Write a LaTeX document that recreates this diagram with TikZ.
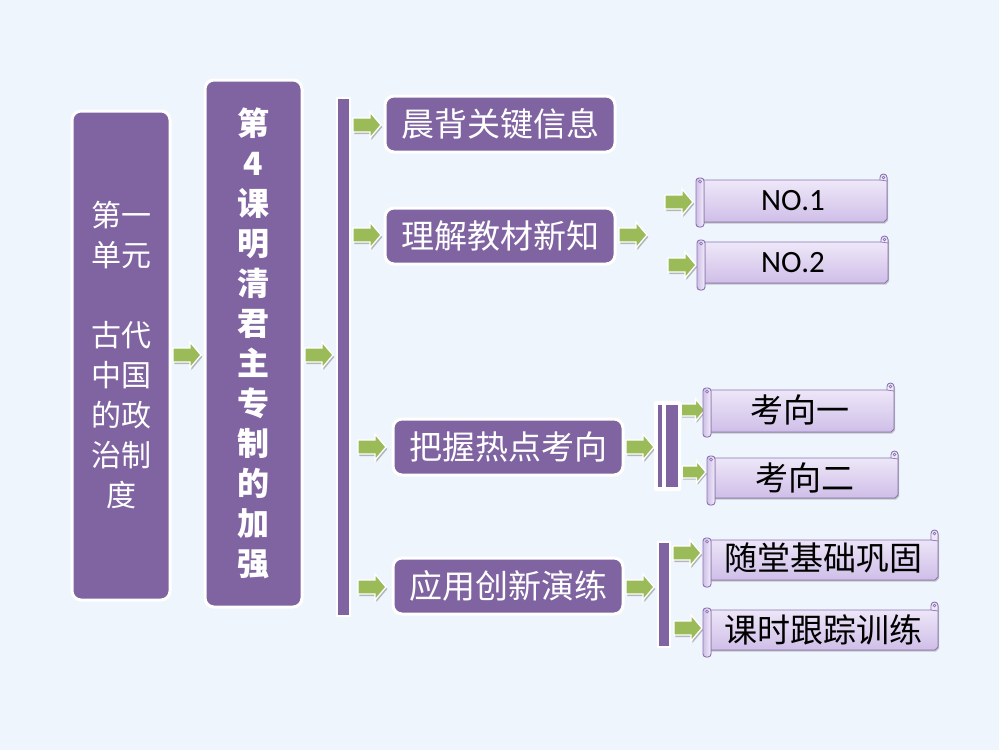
\documentclass[tikz,border=0pt]{standalone}
\usepackage{fontspec}
\setmainfont{Carlito}
\newfontfamily\cjk{Noto Sans CJK SC}
\usetikzlibrary{shadows}
\definecolor{bgc}{RGB}{238,245,253}
\definecolor{pur}{RGB}{128,100,162}
\definecolor{agr}{RGB}{155,187,89}
\definecolor{lavtop}{RGB}{243,238,251}
\definecolor{lavbot}{RGB}{207,190,232}
\definecolor{sedge}{RGB}{140,115,178}
\newcommand\scrollbox[6]{%
  \filldraw[top color=lavtop, bottom color=lavbot, draw=sedge, line width=0.9pt,
    drop shadow={shadow xshift=1pt, shadow yshift=-1.5pt, fill=black!40, opacity=0.5}]
    (#1+4,#3) -- (#2-7,#3) -- (#2-7,#6+3.5) arc[start angle=180,end angle=360,radius=3.5]
    -- (#2,#4-3) -- (#2-3,#4) -- (#1+4,#4) -- cycle;
  \draw[sedge, line width=0.7pt] (#2-3.5,#6+3.5) circle (1.3);
  \draw[sedge, line width=0.7pt] (#2-7,#3) -- (#2,#3+1);
  \filldraw[left color=lavbot, right color=lavtop, draw=sedge, line width=0.9pt, rounded corners=3pt]
    (#1,#3-2) rectangle (#1+8,#5);
  \draw[sedge, line width=0.7pt] (#1+4,#3+1.5) circle (1.5);
}
\newcommand\greenarrow[3][1]{%
  \coordinate (#2) at (#3);
  \begin{scope}[shift={(#2)}, scale=#1]
    \fill[black!45, opacity=0.6, shift={(1.3,2)}]
      (-14,-7) -- (3,-7) -- (3,-13) -- (14,0) -- (3,13) -- (3,7) -- (-14,7) -- cycle;
    \filldraw[fill=agr, draw=white, line width=1.3pt, line join=miter]
      (-14,-7) -- (3,-7) -- (3,-13) -- (14,0) -- (3,13) -- (3,7) -- (-14,7) -- cycle;
  \end{scope}}
\begin{document}
\begin{tikzpicture}[x=1pt,y=-1pt,
  pbox/.style={draw=white, line width=3pt, fill=pur, rounded corners=9pt, text=white, inner sep=0pt, align=center},
  vbar/.style={draw=white, line width=2.5pt, fill=pur, inner sep=0pt},
  btext/.style={font=\cjk\fontsize{33}{33}\selectfont},
  stext/.style={font=\cjk\fontsize{33}{33}\selectfont, text=black, inner sep=0pt},
  ntext/.style={font=\fontsize{31}{31}\selectfont, text=black, inner sep=0pt}
]
\fill[bgc] (0,0) rectangle (999,750);
\useasboundingbox (0,0) rectangle (999,750);

% left boxes
\node[pbox, minimum width=98pt, minimum height=489pt, font=\cjk\fontsize{30}{40}\selectfont]
  (unit) at (121,355.5) {第一\\单元\\[40pt]古代\\中国\\的政\\治制\\度};
\node[pbox, minimum width=97pt, minimum height=527pt, font=\cjk\bfseries\fontsize{32}{40}\selectfont]
  (lesson) at (253.5,343.5) {第\\4\\课\\明\\清\\君\\主\\专\\制\\的\\加\\强};
\node[vbar, minimum width=13pt, minimum height=518pt] (mainbar) at (343.5,357) {};

\greenarrow{a0}{187,355}
\greenarrow{a1}{319,355}

% second level
\node[pbox, minimum width=230pt, minimum height=56pt, btext] (b1) at (500,124) {晨背关键信息};
\node[pbox, minimum width=230pt, minimum height=56pt, btext] (b2) at (500,236) {理解教材新知};
\node[pbox, minimum width=230pt, minimum height=56pt, btext] (b3) at (508,447) {把握热点考向};
\node[pbox, minimum width=230pt, minimum height=56pt, btext] (b4) at (508,586) {应用创新演练};

\greenarrow{ab1}{367,125}
\greenarrow{ab2}{367,235}
\greenarrow{ab3}{372,447}
\greenarrow{ab4}{372,587}

\greenarrow{ac2}{633,235}
\greenarrow{ac3}{640,447}
\greenarrow{ac4}{640,587}

% bars for third level
\node[fill=white, inner sep=0pt, minimum width=27pt, minimum height=90pt, rounded corners=2pt] (kframe) at (667.5,446) {};
\node[fill=pur, inner sep=0pt, minimum width=4pt, minimum height=82pt] (kthin) at (660,446) {};
\node[fill=pur, inner sep=0pt, minimum width=12pt, minimum height=82pt] (kthick) at (672,446) {};
\node[vbar, minimum width=12pt, minimum height=105pt] (ybar) at (664,594.5) {};

% arrows to scrolls
\greenarrow{an1}{679,202}
\greenarrow{an2}{682,265}
\greenarrow[0.85]{ak1}{693,410}
\greenarrow[0.85]{ak2}{694,472}
\greenarrow{ay1}{687,553}
\greenarrow{ay2}{688,628}

% scrolls
\scrollbox{696}{887}{180}{222}{227}{174}
\node[ntext] (s1) at (793,201) {NO.1};
\scrollbox{697}{888}{242}{283}{290}{236}
\node[ntext] (s2) at (793,263) {NO.2};
\scrollbox{703}{894}{390}{432}{437}{383}
\node[stext] (s3) at (800,410) {考向一};
\scrollbox{707}{898}{458}{498}{505}{451}
\node[stext] (s4) at (805,478) {考向二};
\scrollbox{703}{938}{540}{580}{587}{530}
\node[stext] (s5) at (823,558) {随堂基础巩固};
\scrollbox{703}{938}{610}{650}{657}{602}
\node[stext] (s6) at (823,630) {课时跟踪训练};
\end{tikzpicture}
\end{document}
